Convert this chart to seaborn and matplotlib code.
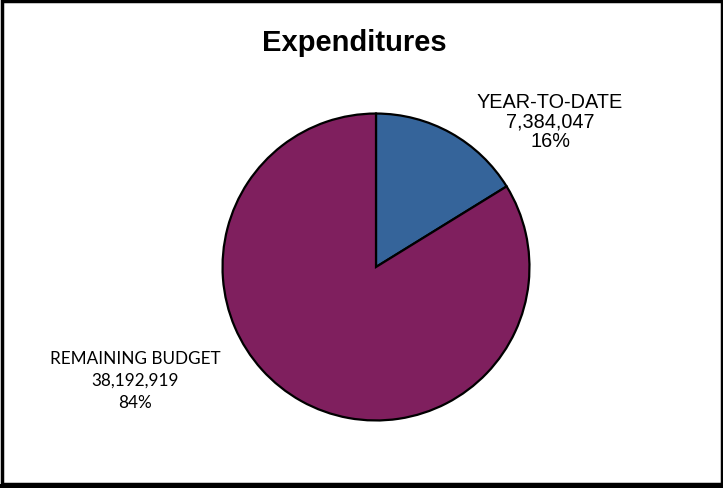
import matplotlib
matplotlib.use("Agg")
import matplotlib.pyplot as plt
import seaborn as sns
from matplotlib.patches import Rectangle

categories = ["YEAR-TO-DATE", "REMAINING BUDGET"]
values = [7384047, 38192919]
percents = ["16%", "84%"]
colors = ["#35649A", "#7F1F5E"]

sns.set_theme(style="white")
plt.rcParams['font.family'] = ['Liberation Sans', 'DejaVu Sans']
plt.rcParams['text.color'] = 'black'

W, H = 723, 489
fig = plt.figure(figsize=(W / 100, H / 100), dpi=100)
fig.patch.set_facecolor("white")

cx, cy, r = 376, 268, 155
ax = fig.add_axes([(cx - r) / W, (H - cy - r) / H, 2 * r / W, 2 * r / H])
ax.pie(values, colors=colors, startangle=90, counterclock=False,
       wedgeprops=dict(edgecolor="black", linewidth=1.6))
ax.set_xlim(-1.01, 1.01)
ax.set_ylim(-1.01, 1.01)
ax.axis("off")

fig.text(354 / W, 1 - 43 / H, "Expenditures", ha="center", va="center",
         fontsize=21, fontweight="bold", color="black", family=["Liberation Sans"])

fig.text(550 / W, 1 - 122 / H, f"{categories[0]}\n{values[0]:,}\n{percents[0]}",
         ha="center", va="center", fontsize=14.3, linespacing=1.05, color="black",
         family=["Liberation Sans"])
fig.text(135 / W, 1 - 381 / H, f"{categories[1]}\n{values[1]:,}\n{percents[1]}",
         ha="center", va="center", fontsize=12.3, linespacing=1.5, color="black",
         family=["Lato", "Liberation Sans"])

# figure border
fig.patches.append(Rectangle((1.5 / W, 4 / H), (W - 3) / W, (H - 5.5) / H,
                             transform=fig.transFigure, fill=False,
                             edgecolor="black", linewidth=2.5))
fig.patches.append(Rectangle((0, 0), 1, 4 / H, transform=fig.transFigure,
                             facecolor="black", edgecolor="none"))

fig.savefig("out.png", dpi=100)
